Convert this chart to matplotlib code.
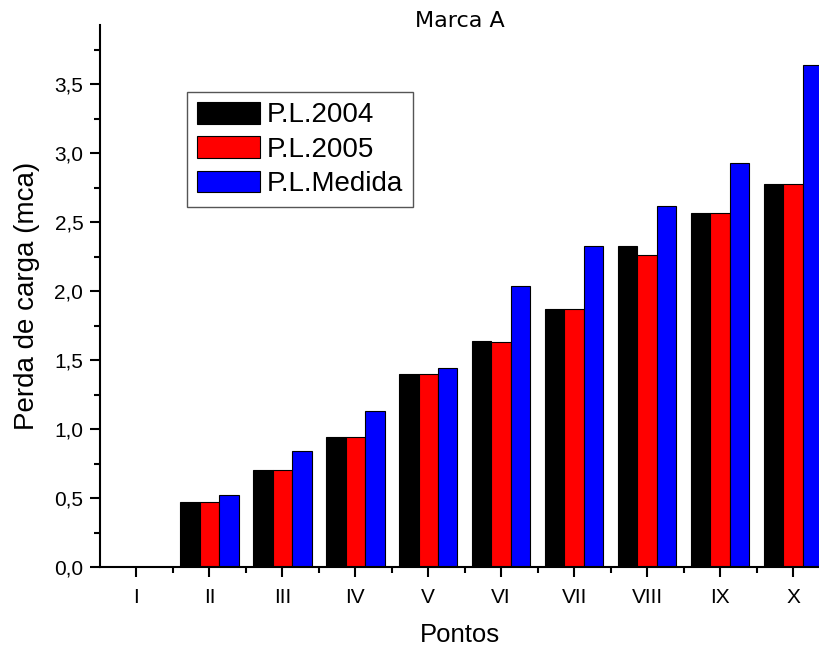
import numpy as np
import matplotlib
matplotlib.use("Agg")
import matplotlib.pyplot as plt
from matplotlib.ticker import FuncFormatter, MultipleLocator, FixedLocator

plt.rcParams['font.family'] = ['Liberation Sans', 'DejaVu Sans']

# Data
pontos = ['I', 'II', 'III', 'IV', 'V', 'VI', 'VII', 'VIII', 'IX', 'X']
pl_2004 = [0.0, 0.47, 0.70, 0.94, 1.40, 1.64, 1.87, 2.33, 2.57, 2.78]
pl_2005 = [0.0, 0.47, 0.70, 0.94, 1.40, 1.63, 1.87, 2.26, 2.57, 2.78]
pl_medida = [0.0, 0.52, 0.84, 1.13, 1.44, 2.04, 2.33, 2.62, 2.93, 3.64]

fig = plt.figure(figsize=(8.2, 6.48), dpi=100)
ax = fig.add_axes([100 / 820, 1 - 567 / 648, 720 / 820, 542 / 648])

x = np.arange(1, len(pontos) + 1)
w = 0.267
kw = dict(edgecolor='black', linewidth=0.8)
ax.bar(x - w, pl_2004, w, color='black', label='P.L.2004', **kw)
ax.bar(x, pl_2005, w, color='#ff0000', label='P.L.2005', **kw)
ax.bar(x + w, pl_medida, w, color='#0000ff', label='P.L.Medida', **kw)

ax.set_xlim(0.5, 10.37)
ax.set_ylim(0, 3.93)
ax.set_xticks(x)
ax.set_xticklabels(pontos)
ax.xaxis.set_minor_locator(FixedLocator(x + 0.5))
ax.yaxis.set_major_locator(MultipleLocator(0.5))
ax.yaxis.set_minor_locator(MultipleLocator(0.25))
ax.yaxis.set_major_formatter(FuncFormatter(lambda v, p: '{:.1f}'.format(v).replace('.', ',')))

for s in ['top', 'right']:
    ax.spines[s].set_visible(False)
for s in ['left', 'bottom']:
    ax.spines[s].set_linewidth(1.5)
ax.tick_params(which='major', direction='out', length=7, width=1.5, labelsize=15, pad=5)
ax.tick_params(which='minor', direction='out', length=4, width=1.5)
ax.tick_params(axis='x', which='major', pad=8)

ax.set_xlabel('Pontos', fontsize=18.5, labelpad=12)
ax.set_ylabel('Perda de carga (mca)', fontsize=20, labelpad=10)
fig.text(460 / 820, 1 - 21 / 648, 'Marca A', ha='center', va='center', fontsize=16,
         family='DejaVu Sans')

leg = ax.legend(loc='upper left', bbox_to_anchor=(0.121, 0.876), borderaxespad=0,
                fontsize=20, handlelength=2.27, handleheight=0.83, handletextpad=0.25,
                labelspacing=0.28, borderpad=0.35, fancybox=False, framealpha=1)
leg.get_frame().set_edgecolor('#555555')
leg.get_frame().set_linewidth(1.0)

fig.savefig('out.png', dpi=100)
